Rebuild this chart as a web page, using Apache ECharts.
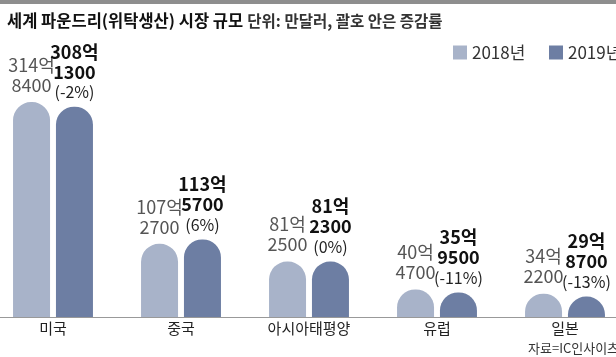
<!DOCTYPE html>
<html>
<head>
<meta charset="utf-8">
<script src="https://cdn.jsdelivr.net/npm/echarts@6/dist/echarts.min.js"></script>
<style>html,body{margin:0;padding:0;background:#fff}#c{width:616px;height:357px}</style>
</head>
<body>
<div id="c"></div>
<script>
// 단위: 만달러
const categories = ['미국', '중국', '아시아태평양', '유럽', '일본'];
const values2018 = [3148400, 1072700, 812500, 404700, 342200];
const values2019 = [3081300, 1135700, 812300, 359500, 298700];
const changes2019 = ['-2%', '6%', '0%', '-11%', '-13%'];
const seriesNames = ['2018년', '2019년'];

const FONT = '"Noto Sans CJK KR", "Noto Sans", sans-serif';
function fmt(v) {
  return Math.floor(v / 10000) + '억\n' + String(v % 10000).padStart(4, '0');
}
const legendBase = {
  top: 44, itemWidth: 14, itemHeight: 14, icon: 'rect', padding: 0,
  textStyle: { fontSize: 17, color: '#333', fontFamily: FONT }
};

const chart = echarts.init(document.getElementById('c'));
chart.setOption({
  animation: false,
  textStyle: { fontFamily: FONT },
  graphic: [
    { type: 'rect', shape: { x: 0, y: 0, width: 616, height: 4 }, style: { fill: '#8e8e8e' } },
    { type: 'text', left: 528, top: 342, style: { text: '자료=IC인사이츠', fill: '#333', font: '13px ' + FONT } }
  ],
  title: {
    left: 2, top: 7,
    text: '{b|세계 파운드리(위탁생산) 시장 규모} {s|단위: 만달러, 괄호 안은 증감률}',
    textStyle: {
      rich: {
        b: { fontSize: 16.5, fontWeight: 'bold', color: '#111', fontFamily: FONT },
        s: { fontSize: 15.5, color: '#333', fontFamily: FONT }
      }
    }
  },
  legend: [
    Object.assign({ left: 453, data: [seriesNames[0]] }, legendBase),
    Object.assign({ left: 549, data: [seriesNames[1]] }, legendBase)
  ],
  grid: { left: -11, right: -13, top: 44, bottom: 40, outerBoundsMode: 'none', containLabel: false },
  xAxis: {
    type: 'category',
    data: categories,
    axisLine: { lineStyle: { color: '#999', width: 1 } },
    axisTick: { show: false },
    axisLabel: { fontSize: 15, color: '#222', margin: 4, fontFamily: FONT }
  },
  yAxis: {
    type: 'value', min: 0, max: 4000000,
    show: false, splitLine: { show: false }
  },
  series: [
    {
      name: seriesNames[0], type: 'bar', data: values2018,
      barWidth: 37, barGap: '16%',
      itemStyle: { color: '#a8b3c9', borderRadius: [18, 18, 0, 0] },
      label: {
        show: true, position: 'top', distance: 7,
        formatter: p => fmt(p.value),
        fontSize: 18, lineHeight: 20, color: '#555', fontFamily: FONT, align: 'center'
      }
    },
    {
      name: seriesNames[1], type: 'bar', data: values2019,
      barWidth: 37,
      itemStyle: { color: '#6d7ea3', borderRadius: [18, 18, 0, 0] },
      label: {
        show: true, position: 'top', distance: 5,
        formatter: p => '{v|' + fmt(p.value).replace('\n', '}\n{v|') + '}\n{p|(' + changes2019[p.dataIndex] + ')}',
        rich: {
          v: { fontSize: 18, lineHeight: 20, fontWeight: 'bold', color: '#111', fontFamily: FONT, align: 'center' },
          p: { fontSize: 16, lineHeight: 20, color: '#222', fontFamily: FONT, align: 'center' }
        }
      }
    }
  ]
});
</script>
</body>
</html>
